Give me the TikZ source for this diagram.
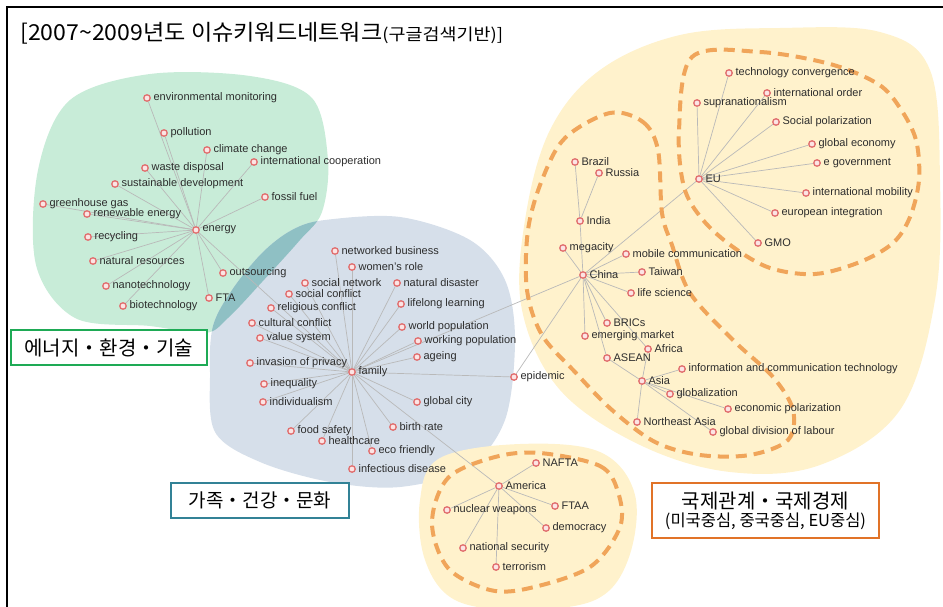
\documentclass[tikz,border=0pt]{standalone}
\usepackage{fontspec}
\setmainfont{Liberation Sans}
\newfontfamily\kr{Noto Sans CJK KR}
\newfontfamily\krtitle[FakeStretch=1.05]{Noto Sans CJK KR}
\newfontfamily\krwide[FakeStretch=1.12]{Noto Sans CJK KR}
\newfontfamily\lab{Liberation Sans}
\usetikzlibrary{calc}
\pgfdeclarelayer{background}
\pgfsetlayers{background,main}
\definecolor{greenf}{RGB}{200,236,216}
\definecolor{bluef}{RGB}{214,223,234}
\definecolor{overf}{RGB}{143,192,196}
\definecolor{yellowf}{RGB}{255,242,204}
\definecolor{dashc}{RGB}{240,165,90}
\definecolor{edgec}{RGB}{185,185,185}
\definecolor{dotc}{RGB}{225,110,110}
\definecolor{dotf}{RGB}{252,228,228}
\definecolor{txt}{RGB}{45,45,45}
\definecolor{boxgreen}{RGB}{30,170,85}
\definecolor{boxteal}{RGB}{50,130,150}
\definecolor{boxorange}{RGB}{225,115,40}
\tikzset{
  kwdot/.style={circle, draw=dotc, fill=dotf, line width=1.3pt, inner sep=0pt, minimum size=6.5pt},
  lbl/.style={font=\lab\fontsize{11}{12}\selectfont, text=txt, inner sep=1pt},
  edge/.style={draw=edgec, line width=0.7pt},
  loopdash/.style={draw=dashc, line width=4pt, dash pattern=on 11pt off 7pt},
  catbox/.style={draw, line width=2.6pt, fill=white, text=black, inner sep=0pt}
}
\newcommand\kwnode[4]{\node[kwdot, label={[lbl,label distance=1.5pt]0:#4}] (#1) at (#2,#3) {};}
\begin{document}
\begin{tikzpicture}[x=1pt,y=-1pt]
\useasboundingbox (0,0) rectangle (943,607);
% frame
\begin{scope}
\clip (0,0) rectangle (943,607);
\draw[line width=1.4pt, black] (7,7) rectangle (960,620);
\end{scope}
% title
\node[anchor=base west, inner sep=0pt, text=black] (title) at (20,41)
 {\krtitle\fontsize{22}{24}\selectfont [2007\textasciitilde2009년도 이슈키워드네트워크{\krwide\fontsize{16.5}{18}\selectfont(구글검색기반)]}};

% ---------- keyword nodes ----------
% energy cluster
\kwnode{envmon}{147}{98}{environmental monitoring}
\kwnode{pollution}{164}{133}{pollution}
\kwnode{climate}{207}{150}{climate change}
\kwnode{intcoop}{254}{162}{international cooperation}
\kwnode{waste}{145}{168}{waste disposal}
\kwnode{sustdev}{115}{184}{sustainable development}
\kwnode{fossil}{265}{197}{fossil fuel}
\kwnode{ghg}{43}{204}{greenhouse gas}
\kwnode{renew}{87}{214}{renewable energy}
\kwnode{energy}{196}{230}{energy}
\kwnode{recyc}{88}{237}{recycling}
\kwnode{natres}{93}{261}{natural resources}
\kwnode{outs}{223}{273}{outsourcing}
\kwnode{nano}{106}{286}{nanotechnology}
\kwnode{fta}{209}{298}{FTA}
\kwnode{bio}{123}{306}{biotechnology}
% family cluster
\kwnode{netbus}{335}{251}{networked business}
\kwnode{women}{352}{267}{women’s role}
\kwnode{socnet}{305}{283}{social network}
\kwnode{natdis}{397}{283}{natural disaster}
\kwnode{soccon}{289}{294}{social conflict}
\kwnode{relcon}{271}{308}{religious conflict}
\kwnode{lifelong}{401}{304}{lifelong learning}
\kwnode{culcon}{252}{323}{cultural conflict}
\kwnode{worldpop}{402}{327}{world population}
\kwnode{valsys}{260}{338}{value system}
\kwnode{workpop}{418}{341}{working population}
\kwnode{ageing}{417}{357}{ageing}
\kwnode{privacy}{250}{363}{invasion of privacy}
\kwnode{family}{352}{372}{family}
\kwnode{inequal}{264}{384}{inequality}
\kwnode{indiv}{263}{402}{individualism}
\kwnode{globcity}{417}{402}{global city}
\kwnode{birth}{393}{427}{birth rate}
\kwnode{food}{291}{431}{food safety}
\kwnode{health}{322}{441}{healthcare}
\kwnode{eco}{372}{451}{eco friendly}
\kwnode{infect}{352}{469}{infectious disease}
\kwnode{epid}{514}{377}{epidemic}
% EU cluster
\kwnode{techconv}{729}{73}{technology convergence}
\kwnode{intorder}{767}{93}{international order}
\kwnode{supra}{697}{103}{supranationalism}
\kwnode{socpol}{776}{122}{Social polarization}
\kwnode{globeco}{812}{144}{global economy}
\kwnode{egov}{817}{163}{e government}
\kwnode{eu}{699}{179}{EU}
\kwnode{intmob}{806}{193}{international mobility}
\kwnode{euint}{775}{213}{european integration}
\kwnode{gmo}{758}{243}{GMO}
% China cluster
\kwnode{brazil}{575}{162}{Brazil}
\kwnode{russia}{599}{173}{Russia}
\kwnode{india}{580}{221}{India}
\kwnode{mega}{563}{248}{megacity}
\kwnode{mobile}{626}{254}{mobile communication}
\kwnode{china}{583}{275}{China}
\kwnode{taiwan}{642}{272}{Taiwan}
\kwnode{life}{631}{293}{life science}
\kwnode{brics}{607}{323}{BRICs}
\kwnode{emerg}{585}{336}{emerging market}
\kwnode{africa}{648}{349}{Africa}
\kwnode{asean}{607}{358}{ASEAN}
\kwnode{ict}{682}{369}{information and communication technology}
\kwnode{asia}{642}{381}{Asia}
\kwnode{glob}{670}{394}{globalization}
\kwnode{ecopol}{728}{409}{economic polarization}
\kwnode{neasia}{637}{422}{Northeast Asia}
\kwnode{gdl}{713}{432}{global division of labour}
% America cluster
\kwnode{nafta}{536}{463}{NAFTA}
\kwnode{america}{499}{486}{America}
\kwnode{nuclear}{447}{510}{nuclear weapons}
\kwnode{ftaa}{555}{506}{FTAA}
\kwnode{democ}{546}{528}{democracy}
\kwnode{natsec}{463}{548}{national security}
\kwnode{terror}{496}{567}{terrorism}

% ---------- category boxes ----------
\node[catbox, draw=boxgreen, minimum width=196pt, minimum height=35pt] (catA) at (109,347.5)
 {\kr\fontsize{20}{21}\selectfont 에너지・환경・기술};
\node[catbox, draw=boxteal, minimum width=178pt, minimum height=35pt] (catB) at (260,500.5)
 {\kr\fontsize{19}{20}\selectfont 가족・건강・문화};
\node[catbox, draw=boxorange, minimum width=227pt, minimum height=55pt, align=center] (catC) at (765.5,510.5)
 {\kr\fontsize{20}{21}\selectfont 국제관계・국제경제\\[2pt]\kr\fontsize{16.5}{17}\selectfont (미국중심, 중국중심, EU중심)};

% ---------- background ----------
\begin{pgfonlayer}{background}
\def\greenpath{plot[smooth cycle, tension=0.55] coordinates {(38,170) (70,100) (150,74) (250,76) (312,98) (328,160) (322,212) (300,240) (262,282) (228,318) (205,333) (150,326) (75,318) (36,265)}}
\def\bluepath{plot[smooth cycle, tension=0.55] coordinates {(325,220) (400,217) (470,240) (505,280) (515,340) (505,420) (468,468) (400,487) (330,482) (260,462) (215,432) (210,372) (213,326) (232,290) (262,253) (292,230)}}
\fill[greenf] \greenpath;
\fill[bluef] \bluepath;
\begin{scope}
\clip \greenpath;
\fill[overf] \bluepath;
\end{scope}
% yellow blobs
\fill[yellowf] plot[smooth cycle, tension=0.6] coordinates {(600,70) (680,35) (780,28) (880,32) (930,70) (940,180) (935,300) (900,410) (820,465) (730,472) (640,445) (560,390) (522,310) (525,220) (550,130)};
\fill[yellowf] plot[smooth cycle, tension=0.6] coordinates {(440,458) (520,444) (600,452) (635,495) (628,560) (595,600) (520,610) (455,600) (425,560) (420,500)};
% edges
\foreach \n in {envmon,pollution,climate,intcoop,waste,sustdev,fossil,ghg,renew,recyc,natres,outs,nano,fta,bio,family}
  \draw[edge] (energy) -- (\n);
\foreach \n in {netbus,women,socnet,natdis,soccon,relcon,lifelong,culcon,worldpop,valsys,workpop,ageing,privacy,inequal,indiv,globcity,birth,food,health,eco,infect,epid,china,america}
  \draw[edge] (family) -- (\n);
\foreach \n in {techconv,intorder,supra,socpol,globeco,egov,intmob,euint,gmo,china}
  \draw[edge] (eu) -- (\n);
\foreach \n in {india,mega,mobile,taiwan,life,brics,emerg,africa,asean,epid}
  \draw[edge] (china) -- (\n);
\draw[edge] (brazil) -- (india);
\draw[edge] (russia) -- (india);
\foreach \n in {asean,africa,ict,glob,neasia,ecopol,gdl}
  \draw[edge] (asia) -- (\n);
\foreach \n in {nafta,nuclear,ftaa,democ,natsec,terror}
  \draw[edge] (america) -- (\n);
% dashed loops
\draw[loopdash] plot[smooth cycle, tension=0.55] coordinates {(692,57) (760,52) (830,64) (878,84) (900,108) (916,140) (919,180) (910,217) (893,243) (860,262) (815,274) (770,268) (733,247) (703,220) (684,187) (679,130)};
\draw[loopdash] plot[smooth cycle, tension=0.55] coordinates {(610,113) (643,122) (658,150) (662,213) (672,245) (690,293) (733,340) (773,377) (793,410) (788,440) (750,455) (700,455) (655,442) (612,410) (575,372) (542,335) (527,290) (528,230) (542,180) (565,138)};
\draw[loopdash] plot[smooth cycle, tension=0.55] coordinates {(540,453) (600,466) (618,492) (620,527) (590,567) (530,588) (490,590) (448,568) (432,523) (448,478) (495,457)};
\end{pgfonlayer}
\end{tikzpicture}
\end{document}
